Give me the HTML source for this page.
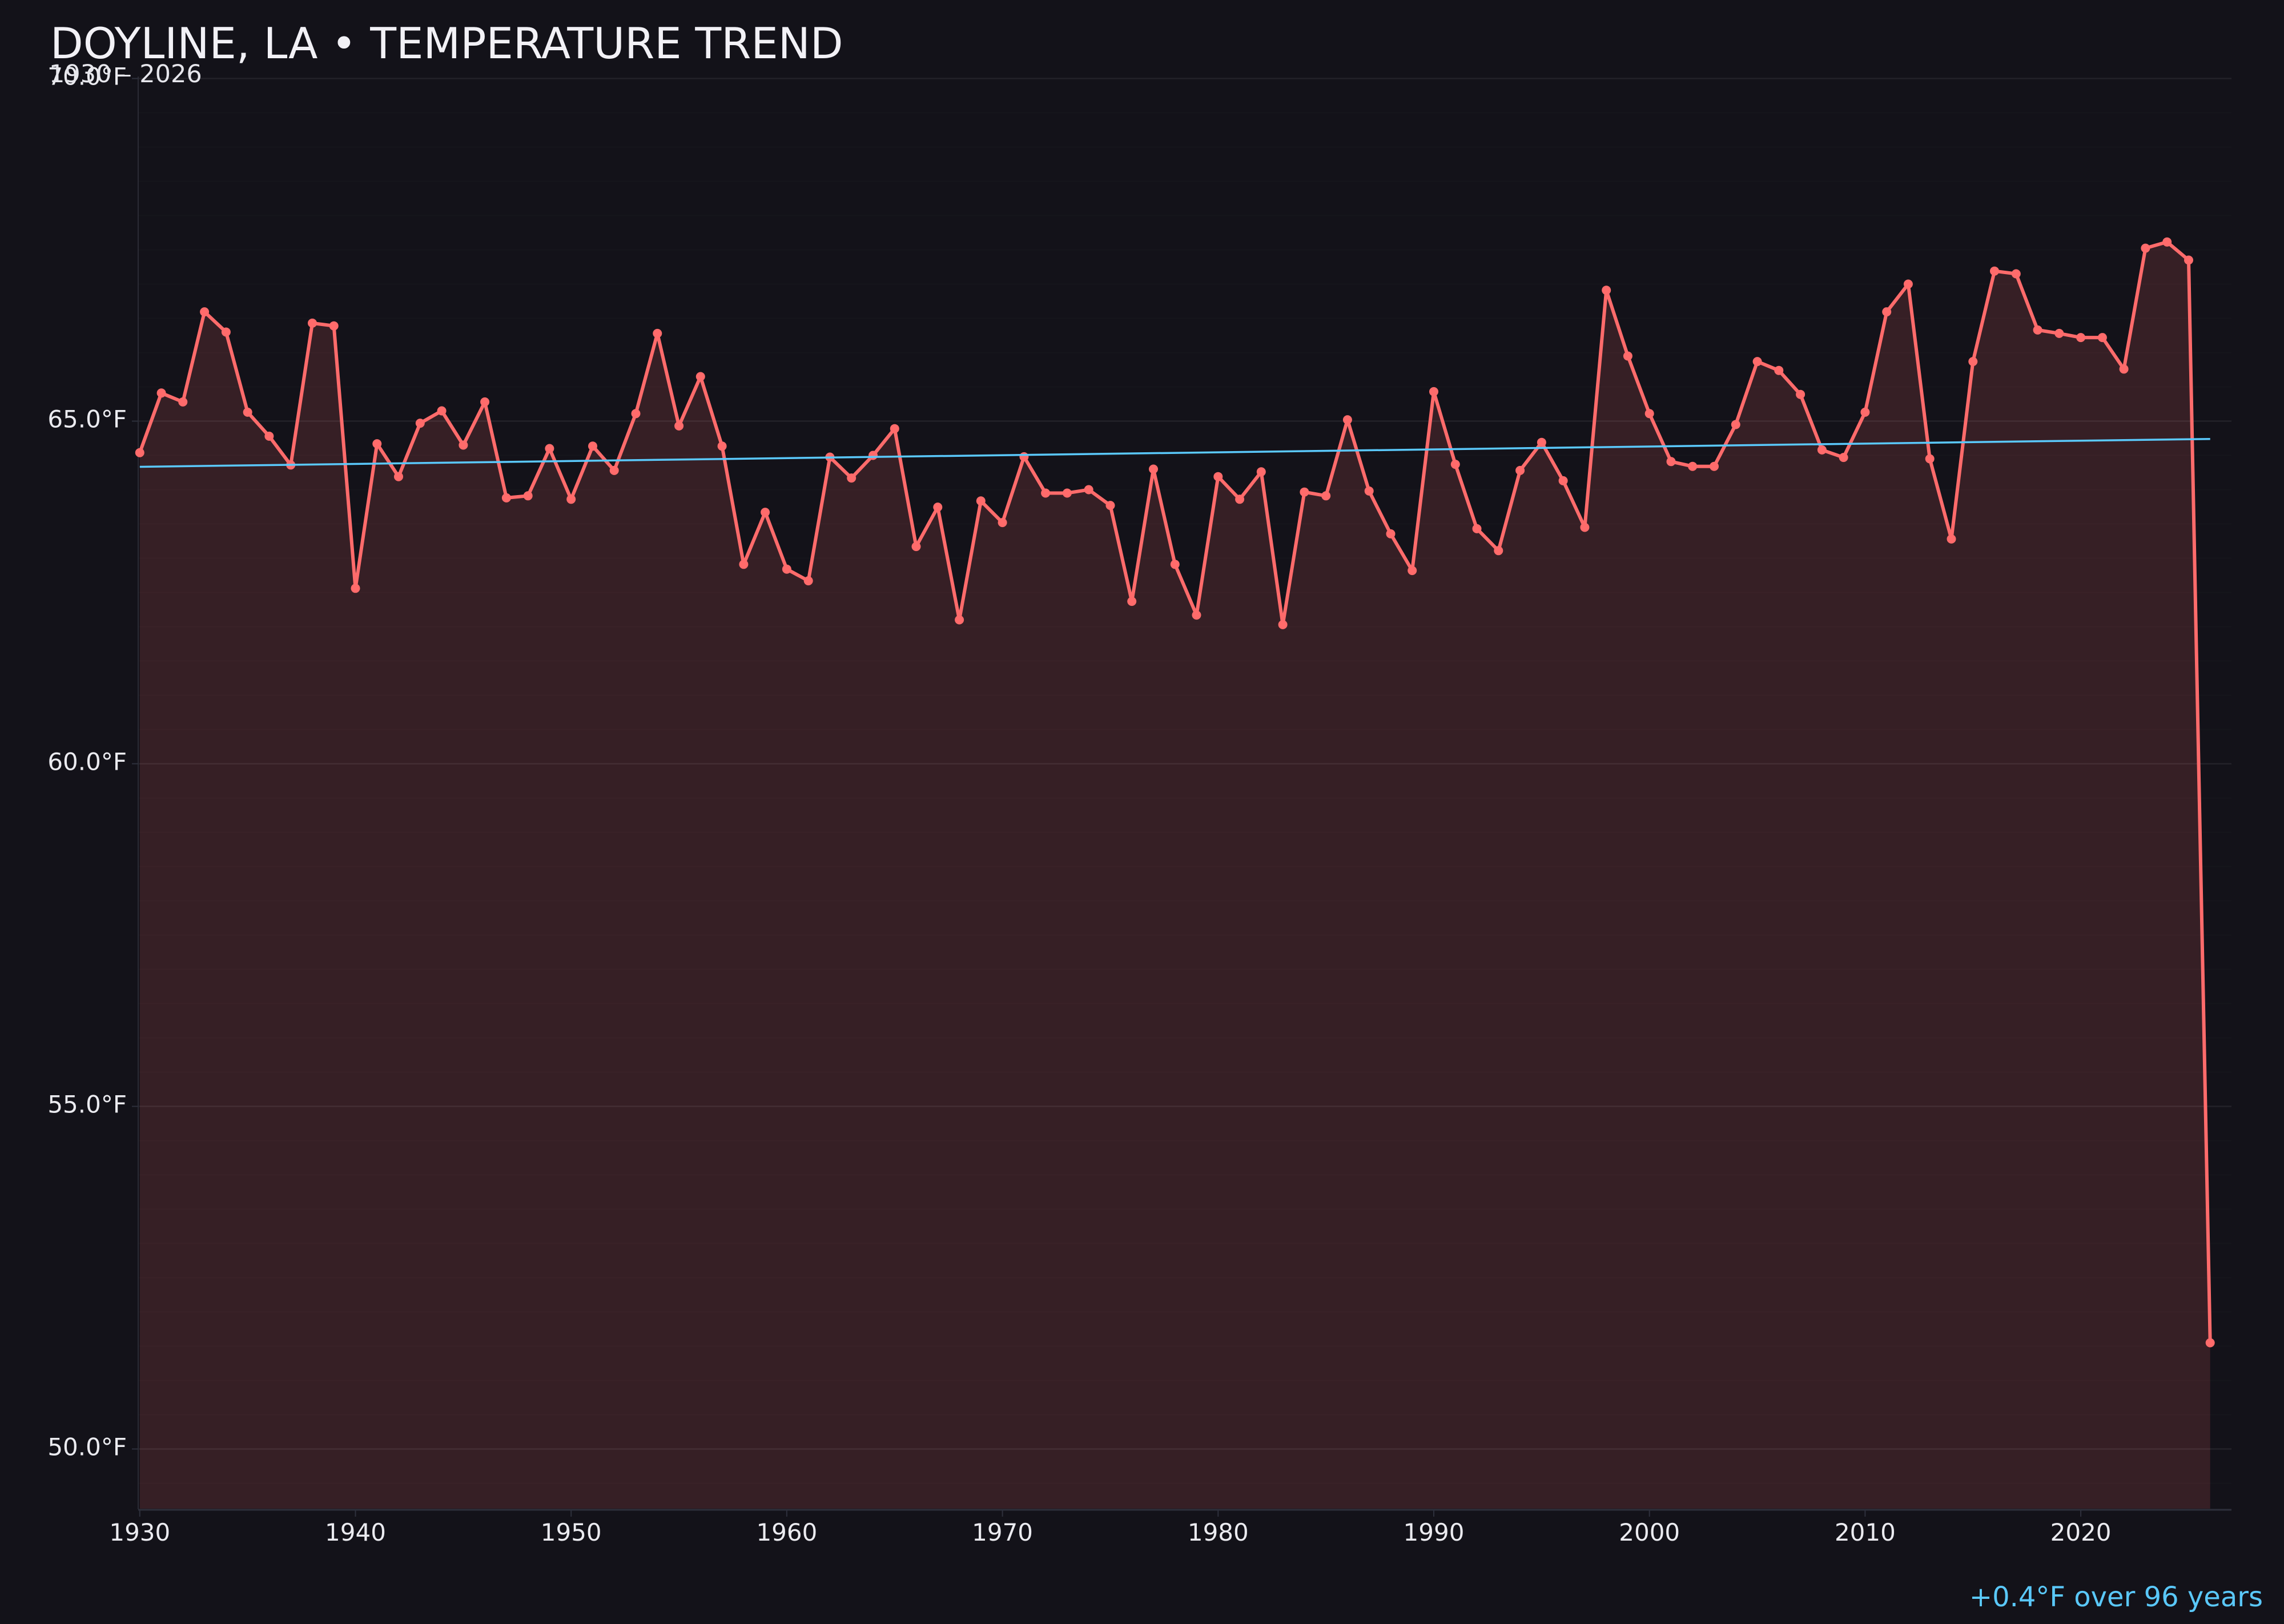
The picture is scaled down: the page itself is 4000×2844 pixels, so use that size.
<!DOCTYPE html>
<html>
<head>
<meta charset="utf-8">
<style>
html,body{margin:0;padding:0;background:#131219;}
body{width:4000px;height:2844px;overflow:hidden;}
svg{display:block;}
text{font-family:"DejaVu Sans","Liberation Sans",sans-serif;}
</style>
</head>
<body>
<svg width="4000" height="2844" viewBox="0 0 4000 2844" xmlns="http://www.w3.org/2000/svg">
<defs>
<marker id="dot" markerUnits="userSpaceOnUse" markerWidth="22" markerHeight="22" refX="11" refY="11">
<circle cx="11" cy="11" r="8" fill="#ff6b6b"/>
</marker>
</defs>
<rect x="0" y="0" width="4000" height="2844" fill="#131219"/>

<!-- fill under line -->
<polygon fill="#ff6b6b" fill-opacity="0.15" points="244.8,2642 244.8,792.7 282.6,688.3 320.3,703.9 358.1,546.1 395.9,581.5 433.7,721.9 471.4,763.9 509.2,814.3 547,565.9 584.7,570.7 622.5,1030.3 660.3,777.1 698,834.7 735.8,741.1 773.6,719.5 811.4,779.5 849.1,703.9 886.9,871.9 924.7,868.3 962.4,785.5 1000.2,874.3 1038,781.3 1075.7,823.9 1113.5,724.3 1151.3,583.9 1189.1,745.9 1226.8,659.5 1264.6,781.3 1302.4,988.3 1340.1,897.1 1377.9,996.7 1415.7,1017.1 1453.4,800.5 1491.2,837.1 1529,797.5 1566.8,750.7 1604.5,957.1 1642.3,888.1 1680.1,1085.5 1717.8,877.3 1755.6,915.1 1793.4,799.9 1831.1,863.5 1868.9,863.5 1906.7,857.5 1944.5,885.1 1982.2,1053.1 2020,821.5 2057.8,988.3 2095.5,1077.1 2133.3,834.7 2171.1,874.3 2208.8,826.3 2246.6,1093.9 2284.4,861.7 2322.2,868.3 2359.9,735.1 2397.7,859.9 2435.5,934.9 2473.2,999.1 2511,685.9 2548.8,813.1 2586.5,925.9 2624.3,964.3 2662.1,823.9 2699.9,774.7 2737.6,841.9 2775.4,923.5 2813.2,508.3 2850.9,623.5 2888.7,724.3 2926.5,808.3 2964.2,816.7 3002,816.7 3039.8,743.5 3077.6,633.1 3115.3,648.7 3153.1,690.7 3190.9,787.9 3228.6,801.1 3266.4,721.9 3304.2,546.1 3341.9,497.5 3379.7,803.5 3417.5,943.9 3455.3,633.1 3493,474.7 3530.8,479.5 3568.6,577.9 3606.3,583.9 3644.1,591.1 3681.9,591.1 3719.6,646.3 3757.4,434.6 3795.2,423.8 3833,455.5 3870.7,2351.5 3870.7,2642"/>

<!-- minor grid -->
<path fill="none" stroke="#ffffff" stroke-opacity="0.016" stroke-width="2" d="M243 197.5H3908M243 257.5H3908M243 317.5H3908M243 377.5H3908M243 437.5H3908M243 497.5H3908M243 557.5H3908M243 617.5H3908M243 677.5H3908M243 797.5H3908M243 857.5H3908M243 917.5H3908M243 977.5H3908M243 1037.5H3908M243 1097.5H3908M243 1157.5H3908M243 1217.5H3908M243 1277.5H3908M243 1397.5H3908M243 1457.5H3908M243 1517.5H3908M243 1577.5H3908M243 1637.5H3908M243 1697.5H3908M243 1757.5H3908M243 1817.5H3908M243 1877.5H3908M243 1997.5H3908M243 2057.5H3908M243 2117.5H3908M243 2177.5H3908M243 2237.5H3908M243 2297.5H3908M243 2357.5H3908M243 2417.5H3908M243 2477.5H3908M243 2597.5H3908"/>
<!-- major grid -->
<path fill="none" stroke="#ffffff" stroke-opacity="0.07" stroke-width="2.5" d="M243 137.5H3908M243 737.5H3908M243 1337.5H3908M243 1937.5H3908M243 2537.5H3908"/>

<!-- spines -->
<line x1="242" y1="134" x2="242" y2="2643" stroke="#2b2b35" stroke-width="2"/>
<line x1="242" y1="2644" x2="3908" y2="2644" stroke="#2e303c" stroke-width="3"/>

<!-- y ticks -->
<path stroke="#2e303c" stroke-width="2" d="M231 137.5H242M231 737.5H242M231 1337.5H242M231 1937.5H242M231 2537.5H242"/>
<!-- x ticks -->
<path stroke="#2e303c" stroke-width="2" d="M244.8 2645V2656M622.5 2645V2656M1000.2 2645V2656M1377.9 2645V2656M1755.6 2645V2656M2133.3 2645V2656M2511 2645V2656M2888.7 2645V2656M3266.4 2645V2656M3644.1 2645V2656"/>

<!-- data line -->
<polyline fill="none" stroke="#ff6b6b" stroke-width="6" stroke-linejoin="round" stroke-linecap="round" marker-start="url(#dot)" marker-mid="url(#dot)" marker-end="url(#dot)" points="244.8,792.7 282.6,688.3 320.3,703.9 358.1,546.1 395.9,581.5 433.7,721.9 471.4,763.9 509.2,814.3 547,565.9 584.7,570.7 622.5,1030.3 660.3,777.1 698,834.7 735.8,741.1 773.6,719.5 811.4,779.5 849.1,703.9 886.9,871.9 924.7,868.3 962.4,785.5 1000.2,874.3 1038,781.3 1075.7,823.9 1113.5,724.3 1151.3,583.9 1189.1,745.9 1226.8,659.5 1264.6,781.3 1302.4,988.3 1340.1,897.1 1377.9,996.7 1415.7,1017.1 1453.4,800.5 1491.2,837.1 1529,797.5 1566.8,750.7 1604.5,957.1 1642.3,888.1 1680.1,1085.5 1717.8,877.3 1755.6,915.1 1793.4,799.9 1831.1,863.5 1868.9,863.5 1906.7,857.5 1944.5,885.1 1982.2,1053.1 2020,821.5 2057.8,988.3 2095.5,1077.1 2133.3,834.7 2171.1,874.3 2208.8,826.3 2246.6,1093.9 2284.4,861.7 2322.2,868.3 2359.9,735.1 2397.7,859.9 2435.5,934.9 2473.2,999.1 2511,685.9 2548.8,813.1 2586.5,925.9 2624.3,964.3 2662.1,823.9 2699.9,774.7 2737.6,841.9 2775.4,923.5 2813.2,508.3 2850.9,623.5 2888.7,724.3 2926.5,808.3 2964.2,816.7 3002,816.7 3039.8,743.5 3077.6,633.1 3115.3,648.7 3153.1,690.7 3190.9,787.9 3228.6,801.1 3266.4,721.9 3304.2,546.1 3341.9,497.5 3379.7,803.5 3417.5,943.9 3455.3,633.1 3493,474.7 3530.8,479.5 3568.6,577.9 3606.3,583.9 3644.1,591.1 3681.9,591.1 3719.6,646.3 3757.4,434.6 3795.2,423.8 3833,455.5 3870.7,2351.5"/>

<!-- trend line -->
<line x1="244.8" y1="817.5" x2="3870.7" y2="768.7" stroke="#5ac8fa" stroke-width="3.5"/>

<!-- y labels -->
<g fill="#ebebf0" font-size="42" text-anchor="end">
<text x="222" y="148.5">70.0°F</text>
<text x="222" y="748.5">65.0°F</text>
<text x="222" y="1348.5">60.0°F</text>
<text x="222" y="1948.5">55.0°F</text>
<text x="222" y="2548.5">50.0°F</text>
</g>

<!-- x labels -->
<g fill="#ebebf0" font-size="42" text-anchor="middle">
<text x="244.8" y="2698">1930</text>
<text x="622.5" y="2698">1940</text>
<text x="1000.2" y="2698">1950</text>
<text x="1377.9" y="2698">1960</text>
<text x="1755.6" y="2698">1970</text>
<text x="2133.3" y="2698">1980</text>
<text x="2511" y="2698">1990</text>
<text x="2888.7" y="2698">2000</text>
<text x="3266.4" y="2698">2010</text>
<text x="3644.1" y="2698">2020</text>
</g>

<!-- title & subtitle -->
<text x="88" y="102" fill="#f2f1f6" font-size="75">DOYLINE, LA • TEMPERATURE TREND</text>
<text x="86" y="144" fill="#e6e6ec" font-size="43">1930 – 2026</text>

<!-- annotation -->
<text x="3963" y="2813" fill="#5ac8fa" font-size="48" text-anchor="end">+0.4°F over 96 years</text>
</svg>
</body>
</html>
